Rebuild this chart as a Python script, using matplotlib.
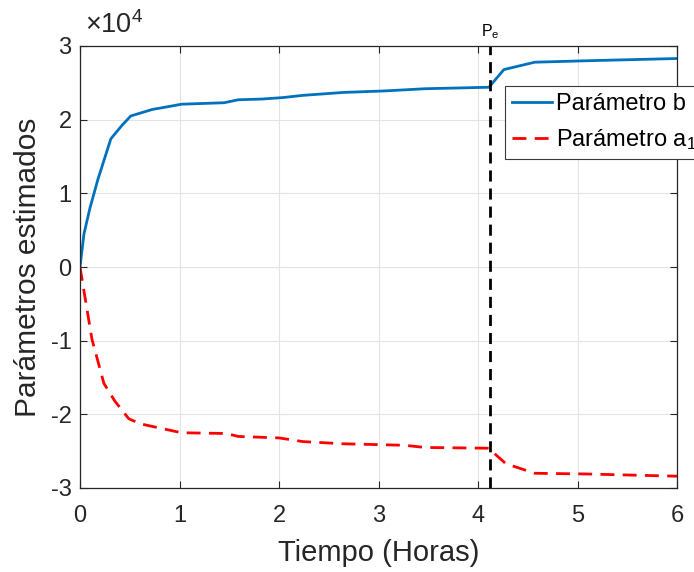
import numpy as np
import matplotlib.pyplot as plt
from matplotlib import ticker

plt.rcParams['font.family'] = ['Liberation Sans', 'DejaVu Sans']
plt.rcParams['mathtext.fontset'] = 'custom'
plt.rcParams['mathtext.rm'] = 'Liberation Sans'
plt.rcParams['mathtext.it'] = 'Liberation Sans'
plt.rcParams['axes.unicode_minus'] = False

# estimated parameters over time (hours)
t_b = [0, 0.04, 0.10, 0.18, 0.31, 0.42, 0.51, 0.73, 0.90, 1.02, 1.45, 1.59,
       1.83, 2.04, 2.24, 2.65, 3.06, 3.47, 4.11, 4.26, 4.57, 5.10, 6.0]
param_b = [0, 4500, 8000, 11900, 17400, 19200, 20500, 21400, 21800, 22100,
           22300, 22700, 22800, 23000, 23300, 23700, 23900, 24200, 24400,
           26800, 27800, 28000, 28300]

t_a = [0, 0.06, 0.12, 0.24, 0.35, 0.49, 0.61, 1.02, 1.47, 1.59, 2.0, 2.24,
       2.65, 3.26, 3.47, 4.11, 4.18, 4.28, 4.57, 5.10, 6.0]
param_a1 = [0, -4900, -9800, -15800, -18200, -20600, -21300, -22500, -22600,
            -23000, -23200, -23700, -24000, -24200, -24500, -24600, -25500,
            -26700, -28000, -28100, -28400]

t_pe = 4.12
x_ticks = [0, 1, 2, 3, 4, 5, 6]
y_ticks = [-30000, -20000, -10000, 0, 10000, 20000, 30000]
y_scale = 1e4

fig = plt.figure(figsize=(6.94, 5.72), dpi=100)
ax = fig.add_axes([80 / 694, 1 - 488 / 572, 597 / 694, 442 / 572])

ax.plot(t_b, param_b, color='#0072BD', lw=2, label='Parámetro b')
ax.plot(t_a, param_a1, color='#FF0000', lw=2, ls=(0, (5, 3)),
        label='Parámetro a$_1$')
ax.axvline(t_pe, color='black', lw=2, ls=(0, (4, 2.5)))
ax.text(t_pe, 30700, 'P$_e$', ha='center', va='bottom', fontsize=11.5)

ax.set_xlim(0, 6)
ax.set_ylim(-30000, 30000)
ax.set_xticks(x_ticks)
ax.set_yticks(y_ticks)
ax.yaxis.set_major_formatter(ticker.FuncFormatter(lambda v, p: f'{v / y_scale:g}'))
ax.text(0.008, 1.015, r'$\times10^{4}$', transform=ax.transAxes, fontsize=19.5,
        color='#262626', ha='left', va='bottom')

ax.grid(True, color='#e3e3e3', lw=0.8)
ax.set_axisbelow(True)
ax.tick_params(direction='in', top=True, right=True, labelsize=17,
               colors='#262626', length=5)
ax.tick_params(axis='x', pad=12)
ax.tick_params(axis='y', pad=6)
for s in ax.spines.values():
    s.set_color('#262626')
    s.set_linewidth(0.9)

ax.set_xlabel('Tiempo (Horas)', fontsize=21, color='#262626', labelpad=9)
ax.set_ylabel('Parámetros estimados', fontsize=21.5, color='#262626', labelpad=6)

leg = ax.legend(loc='upper left', bbox_to_anchor=(505 / 694, 1 - 86 / 572),
                bbox_transform=fig.transFigure, fontsize=17, fancybox=False,
                framealpha=1, edgecolor='#3a3a3a', borderpad=0.3,
                handlelength=1.7, handletextpad=0.17, labelspacing=0.5,
                borderaxespad=0)
leg.get_frame().set_linewidth(0.8)

fig.savefig('out.png', dpi=100)
